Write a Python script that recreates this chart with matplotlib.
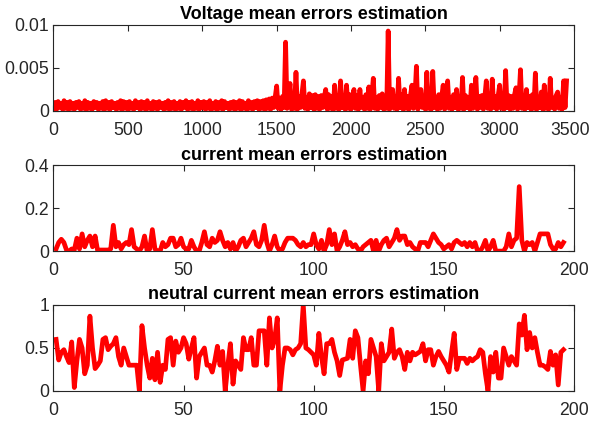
import matplotlib
matplotlib.use("Agg")
import matplotlib.pyplot as plt
import matplotlib.transforms as mtransforms
import numpy as np

plt.rcParams['font.family'] = ['Liberation Sans', 'DejaVu Sans']

# voltage error, in units of 1e-3, one value every 10 samples
voltage_err_e3 = [
    0.3, 1.0, 0.2, 1.1, 0.4, 0.9, 0.2, 1.2, 0.3, 1.0,
    0.2, 1.1, 0.3, 0.9, 0.2, 1.0, 0.4, 1.1, 0.2, 0.9,
    0.3, 1.2, 0.2, 1.0, 0.3, 0.9, 0.2, 1.1, 0.4, 1.0,
    0.2, 0.9, 0.3, 1.1, 0.2, 1.2, 0.3, 1.0, 0.2, 1.1,
    0.4, 0.9, 0.2, 1.0, 0.3, 1.2, 0.2, 1.1, 0.3, 1.0,
    0.2, 1.1, 0.3, 0.9, 0.2, 1.2, 0.4, 1.0, 0.2, 1.1,
    0.3, 1.0, 0.2, 1.2, 0.3, 0.9, 0.2, 1.1, 0.3, 1.0,
    0.2, 1.1, 0.4, 0.9, 0.2, 1.0, 0.3, 1.2, 0.2, 1.0,
    0.3, 1.1, 0.2, 0.9, 0.3, 1.1, 0.2, 1.0, 0.4, 1.2,
    0.2, 1.0, 0.3, 1.1, 0.2, 0.9, 0.3, 1.2, 0.2, 1.0,
    0.4, 1.1, 0.2, 1.0, 0.3, 1.2, 0.2, 0.9, 0.3, 1.1,
    0.2, 1.0, 0.3, 1.2, 0.2, 1.1, 0.4, 0.9, 0.2, 1.0,
    0.3, 1.1, 0.2, 1.0, 0.3, 1.2, 0.2, 1.1, 0.3, 0.9,
    0.2, 1.2, 0.3, 1.0, 0.2, 1.1, 0.4, 1.2, 0.2, 1.1,
    0.3, 1.2, 0.2, 1.3, 0.3, 1.4, 0.2, 1.5, 0.4, 1.6,
    2.9, 0.3, 1.5, 0.2, 1.7, 0.4, 8.0, 0.3, 1.6, 3.2,
    0.2, 1.8, 0.3, 4.5, 0.2, 1.7, 0.4, 1.9, 3.5, 0.3,
    1.6, 0.2, 2.0, 0.4, 1.8, 0.2, 1.9, 0.3, 1.7, 0.2,
    1.8, 0.4, 1.6, 2.5, 0.2, 1.9, 0.3, 1.7, 0.2, 3.0,
    0.3, 1.8, 0.2, 3.5, 0.4, 1.6, 0.2, 3.0, 0.3, 1.9,
    0.2, 1.7, 2.5, 0.3, 1.8, 0.2, 2.5, 0.4, 1.6, 0.2,
    1.9, 0.3, 2.8, 0.2, 1.7, 3.8, 0.3, 1.6, 0.2, 1.8,
    0.4, 2.0, 0.2, 1.7, 0.3, 9.3, 0.2, 1.8, 2.5, 0.3,
    1.6, 0.2, 3.8, 0.4, 1.9, 0.2, 2.5, 0.3, 1.7, 0.2,
    1.8, 3.0, 0.3, 1.6, 5.2, 0.2, 1.9, 2.5, 0.4, 1.7,
    0.2, 4.5, 0.3, 1.8, 0.2, 4.6, 0.4, 1.6, 0.2, 1.9,
    0.3, 1.7, 3.0, 0.2, 1.8, 3.5, 0.3, 1.6, 0.2, 1.9,
    0.4, 2.5, 0.2, 1.7, 0.3, 3.9, 0.2, 1.8, 0.4, 1.6,
    0.2, 3.0, 0.3, 1.9, 3.9, 0.2, 1.7, 0.4, 1.8, 0.2,
    1.6, 3.5, 0.3, 1.9, 0.2, 3.7, 0.4, 1.7, 0.2, 1.8,
    3.0, 0.3, 1.6, 0.2, 4.7, 0.4, 1.8, 0.2, 1.7, 0.3,
    1.9, 2.7, 0.2, 1.6, 4.8, 0.3, 1.8, 0.2, 2.5, 0.4,
    1.7, 0.2, 1.9, 0.3, 4.4, 0.2, 1.6, 0.4, 2.2, 0.2,
    3.0, 0.3, 1.7, 0.2, 3.8, 0.4, 1.5, 0.2, 1.8, 2.2,
    0.3, 1.6, 0.2, 3.5, 0.4, 3.5,
]
voltage_step = 10

current_err = [
    0.01, 0.04, 0.055, 0.04, 0.005, 0.0, 0.01, 0.005, 0.06, 0.01,
    0.08, 0.02, 0.05, 0.07, 0.02, 0.07, 0.0, 0.005, 0.005, 0.005,
    0.005, 0.01, 0.12, 0.02, 0.04, 0.01, 0.03, 0.04, 0.03, 0.10,
    0.02, 0.01, 0.0, 0.02, 0.07, 0.0, 0.01, 0.10, 0.01, 0.0,
    0.0, 0.04, 0.02, 0.03, 0.06, 0.06, 0.02, 0.03, 0.06, 0.02,
    0.01, 0.01, 0.05, 0.02, 0.0, 0.0, 0.04, 0.09, 0.03, 0.02,
    0.06, 0.04, 0.05, 0.09, 0.05, 0.02, 0.04, 0.01, 0.04, 0.0,
    0.02, 0.05, 0.06, 0.02, 0.04, 0.06, 0.09, 0.03, 0.02, 0.05,
    0.12, 0.04, 0.0, 0.03, 0.07, 0.02, 0.0, 0.01, 0.04, 0.06,
    0.06, 0.06, 0.05, 0.03, 0.02, 0.04, 0.02, 0.03, 0.03, 0.08,
    0.03, 0.01, 0.05, 0.0, 0.03, 0.10, 0.03, 0.08, 0.0, 0.02,
    0.05, 0.09, 0.03, 0.04, 0.02, 0.03, 0.01, 0.0, 0.02, 0.03,
    0.04, 0.05, 0.0, 0.05, 0.0, 0.03, 0.05, 0.06, 0.02, 0.04,
    0.06, 0.10, 0.05, 0.07, 0.07, 0.03, 0.04, 0.02, 0.01, 0.0,
    0.04, 0.04, 0.04, 0.02, 0.05, 0.08, 0.06, 0.04, 0.03, 0.01,
    0.02, 0.03, 0.01, 0.04, 0.05, 0.04, 0.03, 0.04, 0.02, 0.04,
    0.02, 0.04, 0.0, 0.0, 0.02, 0.05, 0.0, 0.02, 0.05, 0.0,
    0.0, 0.0, 0.0, 0.02, 0.08, 0.02, 0.05, 0.06, 0.30, 0.05,
    0.0, 0.04, 0.03, 0.04, 0.0, 0.04, 0.08, 0.08, 0.08, 0.08,
    0.03, 0.01, 0.01, 0.04, 0.02, 0.04,
]

neutral_err = [
    0.60, 0.36, 0.45, 0.48, 0.40, 0.33, 0.57, 0.04, 0.35, 0.60,
    0.50, 0.20, 0.30, 0.87, 0.50, 0.26, 0.30, 0.35, 0.60, 0.62,
    0.48, 0.52, 0.55, 0.62, 0.40, 0.30, 0.50, 0.40, 0.30, 0.30,
    0.30, 0.30, 0.0, 0.76, 0.50, 0.30, 0.15, 0.38, 0.13, 0.45,
    0.10, 0.30, 0.25, 0.60, 0.62, 0.30, 0.58, 0.45, 0.50, 0.62,
    0.55, 0.37, 0.50, 0.62, 0.15, 0.40, 0.45, 0.50, 0.30, 0.30,
    0.22, 0.35, 0.52, 0.30, 0.46, 0.0, 0.30, 0.55, 0.08, 0.35,
    0.30, 0.25, 0.62, 0.48, 0.48, 0.62, 0.30, 0.30, 0.70, 0.70,
    0.70, 0.30, 0.85, 0.50, 0.60, 0.85, 0.0, 0.30, 0.50, 0.50,
    0.48, 0.42, 0.48, 0.50, 0.55, 1.0, 0.50, 0.48, 0.45, 0.42,
    0.30, 0.67, 0.40, 0.20, 0.55, 0.55, 0.60, 0.45, 0.35, 0.18,
    0.36, 0.37, 0.38, 0.60, 0.38, 0.70, 0.62, 0.30, 0.0, 0.35,
    0.20, 0.60, 0.50, 0.40, 0.0, 0.55, 0.35, 0.40, 0.45, 0.72,
    0.38, 0.45, 0.48, 0.40, 0.25, 0.45, 0.35, 0.45, 0.42, 0.44,
    0.46, 0.55, 0.35, 0.48, 0.48, 0.30, 0.40, 0.46, 0.40, 0.35,
    0.30, 0.22, 0.45, 0.67, 0.25, 0.38, 0.38, 0.38, 0.32, 0.38,
    0.35, 0.38, 0.40, 0.48, 0.45, 0.20, 0.0, 0.40, 0.22, 0.45,
    0.15, 0.15, 0.50, 0.40, 0.30, 0.40, 0.35, 0.30, 0.78, 0.65,
    0.88, 0.48, 0.68, 0.50, 0.62, 0.45, 0.30, 0.30, 0.28, 0.25,
    0.46, 0.30, 0.42, 0.07, 0.45, 0.48,
]

titles = ["Voltage mean errors estimation",
          "current mean errors estimation",
          "neutral current mean errors estimation"]
xlims = [3500, 200, 200]
xticks = [np.arange(0, 3501, 500), np.arange(0, 201, 50), np.arange(0, 201, 50)]
yticks = [[0, 0.005, 0.01], [0, 0.2, 0.4], [0, 0.5, 1]]
yticklabels = [["0", "0.005", "0.01"], ["0", "0.2", "0.4"], ["0", "0.5", "1"]]

series = [
    (1 + voltage_step * np.arange(len(voltage_err_e3)), np.array(voltage_err_e3) * 1e-3),
    (np.arange(1, len(current_err) + 1), np.array(current_err)),
    (np.arange(1, len(neutral_err) + 1), np.array(neutral_err)),
]

fig = plt.figure(figsize=(5.91, 4.22), dpi=100)
bottoms = [0.737, 0.405, 0.0735]
axc = '#262626'
axes = []
for k in range(3):
    ax = fig.add_axes([0.0905, bottoms[k], 0.8805, 0.2038])
    x, y = series[k]
    ax.plot(x, y, color='red', lw=3.4, solid_joinstyle='round')
    ax.set_xlim(0, xlims[k])
    ax.set_ylim(0, yticks[k][-1])
    ax.set_xticks(xticks[k])
    ax.set_yticks(yticks[k])
    ax.set_yticklabels(yticklabels[k])
    ax.tick_params(direction='in', top=True, right=True, length=4, width=0.8,
                   labelsize=12.7, colors=axc)
    ax.tick_params(axis='x', pad=8)
    ax.tick_params(axis='y', pad=3)
    for s in ax.spines.values():
        s.set_color(axc)
        s.set_linewidth(0.8)
    ax.set_title(titles[k], fontsize=13, fontweight='bold', pad=4)
    axes.append(ax)

# keep the last x label of the top plot inside the figure
fig.canvas.draw()
lab = axes[0].xaxis.get_major_ticks()[-1].label1
lab.set_transform(lab.get_transform() +
                  mtransforms.ScaledTranslation(-4 / 100, 0, fig.dpi_scale_trans))

fig.savefig('out.png', dpi=100)
